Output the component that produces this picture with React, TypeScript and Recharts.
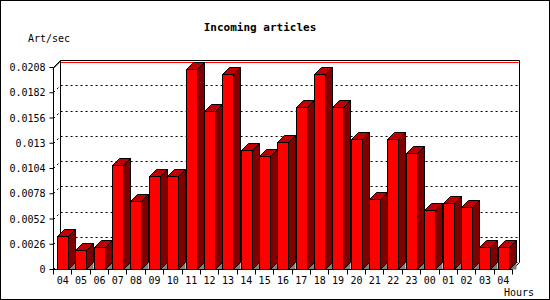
import { Bar, BarChart, CartesianGrid, ReferenceArea, XAxis, YAxis } from "recharts";

const hours = ["04", "05", "06", "07", "08", "09", "10", "11", "12", "13", "14", "15", "16", "17", "18", "19", "20", "21", "22", "23", "00", "01", "02", "03", "04"];
const rates = [
  0.00338, 0.00195, 0.00225, 0.01066, 0.00697, 0.00953, 0.00953, 0.0206, 0.01622, 0.0201, 0.0123, 0.01168, 0.01312,
  0.0167, 0.0201, 0.0167, 0.0134, 0.00724, 0.0134, 0.01196, 0.00612, 0.00676, 0.00643, 0.00222, 0.00222,
];
const yTicks = [0, 0.0026, 0.0052, 0.0078, 0.0104, 0.013, 0.0156, 0.0182, 0.0208];
const yMax = 0.0208;

const data = hours.map((hour, i) => ({ hour, rate: rates[i] }));

const W = 550;
const H = 300;
const D = 7; // 3d depth
const Y_AXIS_W = 53;
const X_AXIS_H = 30;
const margin = { top: 67.5, right: 37.5, left: 0.5, bottom: 0.5 };
const plotWidth = W - margin.left - margin.right - Y_AXIS_W;
const slot = plotWidth / hours.length;
const FONT = "'DejaVu Sans Mono', monospace";

const px = (v: number) => Math.round(v - 0.5) + 0.5;

function Bar3D(props: any) {
  const { x, y, width, height } = props;
  if (width == null || height == null) return null;
  const l = px(x);
  const r = px(x + width);
  const t = px(y);
  const b = px(y + height);
  return (
    <g stroke="#000" strokeWidth={1}>
      <polygon points={`${r},${b} ${r + D},${b - D} ${r + D},${b}`} fill="#808080" stroke="none" />
      <polygon points={`${l},${t} ${l + D},${t - D} ${r + D},${t - D} ${r},${t}`} fill="#c00000" />
      <polygon points={`${r},${t} ${r + D},${t - D} ${r + D},${b - D} ${r},${b}`} fill="#800000" />
      <rect x={l} y={t} width={r - l} height={b - t} fill="#ff0000" />
    </g>
  );
}

function GridLine(props: any) {
  const { x1, y1, x2 } = props;
  const y = px(y1);
  return (
    <path
      d={`M${px(x1)},${y} L${px(x1) + D},${y - D} H${px(x2) + D}`}
      stroke="#000"
      strokeDasharray="2 3"
      fill="none"
    />
  );
}

function Frame(props: any) {
  const { x, y, width, height } = props;
  const l = px(x);
  const t = px(y);
  const b = px(y + height);
  const r = px(x + width);
  const red = t - D + 2;
  return (
    <g fill="none">
      <path d={`M${l - 1},${t + 2} L${l + D - 1},${red} H${r + D - 1}`} stroke="#ff0000" />
      <path
        d={`M${l},${t} L${l + D},${t - D} H${r + D} V${b - D} L${r},${b} M${l + D},${t - D} V${b - D}`}
        stroke="#000"
      />
    </g>
  );
}

function YTick(props: any) {
  const { x, y, payload } = props;
  return (
    <text x={x} y={y} dy="0.355em" textAnchor="end" fontFamily={FONT} fontSize={10} fill="#000">
      {Number(payload.value.toFixed(4)).toString()}
    </text>
  );
}

function XTick(props: any) {
  const { x, y, payload, index } = props;
  const axisY = y - 7;
  const left = px(x - slot / 2);
  const right = px(x + slot / 2);
  return (
    <g>
      <line x1={left} y1={axisY} x2={left} y2={axisY + 5} stroke="#000" />
      {index === hours.length - 1 && <line x1={right} y1={axisY} x2={right} y2={axisY + 5} stroke="#000" />}
      <text x={x} y={y} dy="0.71em" textAnchor="middle" fontFamily={FONT} fontSize={10} fill="#000">
        {payload.value}
      </text>
    </g>
  );
}

export default function App() {
  return (
    <div style={{ position: "fixed", left: 0, top: 0, width: W, height: H, background: "#fff" }}>
      <BarChart width={W} height={H} data={data} margin={margin} barSize={11}>
        <CartesianGrid vertical={false} horizontal={GridLine} />
        <ReferenceArea y1={0} y2={yMax} shape={Frame} zIndex={-50} />
        <XAxis
          dataKey="hour"
          height={X_AXIS_H}
          interval={0}
          tickLine={false}
          tickSize={5}
          tickMargin={2}
          axisLine={{ stroke: "#000" }}
          tick={XTick}
        />
        <YAxis
          width={Y_AXIS_W}
          domain={[0, yMax]}
          ticks={yTicks}
          interval={0}
          tickSize={4}
          tickMargin={4}
          axisLine={{ stroke: "#000" }}
          tickLine={{ stroke: "#000" }}
          tick={YTick}
        />
        <Bar dataKey="rate" shape={Bar3D} isAnimationActive={false} />
      </BarChart>
      <svg width={W} height={H} style={{ position: "absolute", left: 0, top: 0, pointerEvents: "none" }}>
        <rect x={0.5} y={0.5} width={W - 1} height={H - 1} fill="none" stroke="#000" />
        <text x={260} y={27} dy="0.355em" textAnchor="middle" fontFamily={FONT} fontSize={11} fontWeight="bold" fill="#000">
          Incoming articles
        </text>
        <text x={28} y={38} dy="0.355em" fontFamily={FONT} fontSize={10} fill="#000">
          Art/sec
        </text>
        <text x={534} y={292} dy="0.355em" textAnchor="end" fontFamily={FONT} fontSize={10} fill="#000">
          Hours
        </text>
      </svg>
    </div>
  );
}
